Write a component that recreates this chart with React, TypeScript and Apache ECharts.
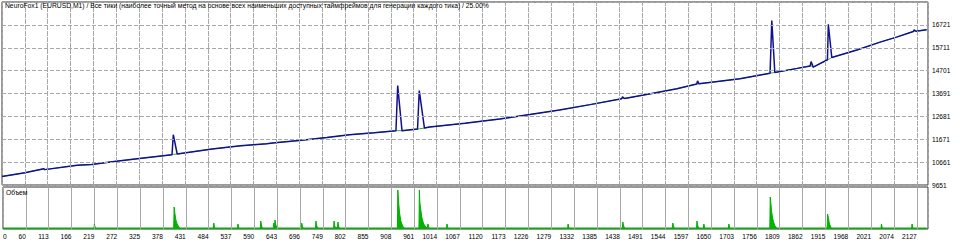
import React, { useEffect, useRef } from "react";
import * as echarts from "echarts";

const TITLE =
  "NeuroFox1 (EURUSD,M1) / Все тики (наиболее точный метод на основе всех наименьших доступных таймфреймов для генерации каждого тика) / 25.00%";
const VOLUME_LABEL = "Объем";

// x axis: trade numbers; the left edge is labelled "0"
const X_ORIGIN = 7;
const X_END = 2153;
const X_STEP = 53;
// y axis: balance ticks
const Y_BASE = 9651;
const Y_STEP = 1010;
const Y_TOP = 17731;
const VOL_MAX = 4.2;

const balanceTrades = [
  7, 60, 104, 106, 181, 215, 267, 330, 401, 404, 413, 494, 560, 620, 640, 696, 760, 812, 870, 920, 924, 934,
  970, 974, 986, 998, 1080, 1160, 1230, 1299, 1370, 1443, 1445, 1450, 1510, 1571, 1617, 1619, 1622, 1670,
  1717, 1787, 1791, 1798, 1850, 1880, 1882, 1887, 1920, 1922, 1930, 1990, 2042, 2080, 2119, 2121, 2125, 2150,
];
const balanceValues = [
  10030, 10190, 10370, 10330, 10520, 10560, 10690, 10830, 10990, 11870, 11020, 11240, 11380, 11470, 11520,
  11620, 11750, 11870, 11960, 12046, 14040, 12046, 12120, 13820, 12165, 12210, 12380, 12560, 12760, 12960,
  13200, 13460, 13540, 13470, 13680, 13900, 14110, 14250, 14120, 14230, 14340, 14590, 16910, 14620, 14800,
  14910, 15100, 14855, 15180, 16750, 15280, 15620, 15960, 16180, 16430, 16500, 16440, 16510,
];
const equityValues = [
  10030, 10190, 10370, 10330, 10520, 10560, 10690, 10830, 10990, 11000, 11020, 11240, 11380, 11470, 11520,
  11620, 11750, 11870, 11960, 12046, 12050, 12046, 12120, 12130, 12165, 12210, 12380, 12560, 12760, 12960,
  13200, 13460, 13470, 13470, 13680, 13900, 14110, 14115, 14120, 14230, 14340, 14590, 14600, 14620, 14800,
  14910, 14915, 14855, 15180, 15190, 15280, 15620, 15960, 16180, 16430, 16435, 16440, 16510,
];

const volumeTrades = [
  7, 218, 219, 221, 223, 403, 404, 406, 408, 411, 415, 418, 495, 496, 498, 551, 552, 554, 604, 605, 607, 609,
  634, 635, 637, 638, 640, 643, 699, 700, 702, 704, 732, 733, 735, 737, 774, 775, 777, 783, 784, 786, 788,
  922, 923, 925, 927, 930, 934, 938, 972, 973, 974, 976, 979, 983, 988, 991, 993, 995, 1036, 1037, 1039,
  1317, 1318, 1320, 1444, 1445, 1447, 1449, 1560, 1561, 1563, 1565, 1616, 1617, 1619, 1621, 1632, 1633, 1635,
  1690, 1691, 1693, 1786, 1787, 1789, 1791, 1794, 1798, 1802, 1919, 1920, 1922, 1924, 1927, 1930, 2044, 2045,
  2047, 2115, 2116, 2118, 2150,
];
const volumeLots = [
  0.1, 0.1, 0.5, 0.15, 0.1, 0.1, 2.2, 1.5, 0.9, 0.5, 0.2, 0.1, 0.1, 0.6, 0.1, 0.1, 0.5, 0.1, 0.1, 0.8, 0.3, 0.1,
  0.1, 0.6, 0.2, 0.9, 0.4, 0.1, 0.1, 0.6, 0.2, 0.1, 0.1, 0.8, 0.3, 0.1, 0.1, 0.8, 0.2, 0.1, 0.7, 0.2, 0.1,
  0.1, 3.9, 2.6, 1.6, 0.8, 0.3, 0.1, 0.1, 3.9, 2.7, 2.0, 1.1, 0.5, 0.2, 0.1, 0.5, 0.1, 0.1, 0.5, 0.1,
  0.1, 0.5, 0.1, 0.1, 0.7, 0.3, 0.1, 0.1, 0.6, 0.2, 0.1, 0.1, 0.8, 0.3, 0.1, 0.1, 0.5, 0.1,
  0.1, 0.5, 0.1, 0.1, 3.2, 2.3, 1.5, 0.8, 0.3, 0.1, 0.1, 1.5, 1.1, 0.6, 0.2, 0.1, 0.1, 0.5,
  0.1, 0.1, 0.5, 0.1, 0.1,
];

const FONT = "Liberation Sans, Arial, sans-serif";
const GRID_COLOR = "#a8a8a8";
const HIDDEN = "rgba(0,0,0,0)";

export default function App() {
  const ref = useRef<HTMLDivElement>(null);

  useEffect(() => {
    if (!ref.current) return;
    const chart = echarts.init(ref.current, undefined, { renderer: "svg" });

    const balance = balanceTrades.map((t, i) => [t - X_ORIGIN, balanceValues[i] - Y_BASE]);
    const equity = balanceTrades.map((t, i) => [t - X_ORIGIN, equityValues[i] - Y_BASE]);
    const volume = volumeTrades.map((t, i) => [t - X_ORIGIN, volumeLots[i]]);

    // grid-line positions follow the axis tick steps
    const xTicks: number[] = [];
    for (let v = X_STEP; v < X_END - X_ORIGIN; v += X_STEP) xTicks.push(v);
    const yTicks: number[] = [];
    for (let v = Y_STEP; v < Y_TOP - Y_BASE; v += Y_STEP) yTicks.push(v);

    const gridLineStyle = { color: GRID_COLOR, type: "dashed" as const, width: 1 };
    const markBase = {
      silent: true,
      symbol: ["none", "none"],
      label: { show: false },
      lineStyle: gridLineStyle,
      emphasis: { disabled: true },
      animation: false,
    };

    const hiddenLine = { show: true, lineStyle: { color: HIDDEN, width: 0 } };
    const hiddenTick = { show: true, length: 0, lineStyle: { color: HIDDEN, width: 0 } };
    const dashed = { show: true, lineStyle: gridLineStyle };

    chart.setOption({
      animation: false,
      grid: [
        { left: 2, top: 2, width: 926, height: 183, show: true, borderColor: "#333", borderWidth: 1 },
        { left: 2, top: 187, width: 926, height: 42, show: true, borderColor: "#333", borderWidth: 1 },
      ],
      xAxis: [
        {
          type: "value",
          gridIndex: 0,
          min: 0,
          max: X_END - X_ORIGIN,
          interval: X_STEP,
          axisLine: hiddenLine,
          axisTick: hiddenTick,
          axisLabel: { show: false },
          splitLine: dashed,
        },
        {
          type: "value",
          gridIndex: 1,
          min: 0,
          max: X_END - X_ORIGIN,
          interval: X_STEP,
          axisLine: hiddenLine,
          axisTick: hiddenTick,
          splitLine: dashed,
          axisLabel: {
            show: true,
            fontSize: 6.6,
            fontFamily: FONT,
            color: "#000",
            align: "right",
            margin: 4,
            showMaxLabel: false,
            alignMinLabel: "left",
            formatter: (v: number) => (v === 0 ? "0" : String(v + X_ORIGIN)),
          },
        },
      ],
      yAxis: [
        {
          type: "value",
          gridIndex: 0,
          position: "right",
          min: 0,
          max: Y_TOP - Y_BASE,
          interval: Y_STEP,
          axisLine: hiddenLine,
          axisTick: hiddenTick,
          splitLine: dashed,
          axisLabel: {
            show: true,
            fontSize: 6.6,
            fontFamily: FONT,
            color: "#000",
            margin: 4,
            showMaxLabel: false,
            formatter: (v: number) => String(v + Y_BASE),
          },
        },
        {
          type: "value",
          gridIndex: 1,
          min: 0,
          max: VOL_MAX,
          axisLine: { show: false },
          axisTick: { show: false },
          axisLabel: { show: false },
          splitLine: { show: false },
        },
      ],
      series: [
        {
          type: "line",
          name: "equity",
          xAxisIndex: 0,
          yAxisIndex: 0,
          data: equity,
          showSymbol: false,
          lineStyle: { color: "#30b030", width: 1 },
          z: 2,
          markLine: {
            ...markBase,
            data: [...xTicks.map((v) => ({ xAxis: v })), ...yTicks.map((v) => ({ yAxis: v }))],
          },
        },
        {
          type: "line",
          name: "balance",
          xAxisIndex: 0,
          yAxisIndex: 0,
          data: balance,
          showSymbol: false,
          lineStyle: { color: "#101090", width: 1.5 },
          z: 3,
        },
        {
          type: "line",
          name: "volumeGrid",
          xAxisIndex: 1,
          yAxisIndex: 1,
          data: [
            [0, 0],
            [X_END - X_ORIGIN, 0],
          ],
          showSymbol: false,
          lineStyle: { color: HIDDEN, width: 0 },
          z: 1,
          markLine: { ...markBase, data: xTicks.map((v) => ({ xAxis: v })) },
        },
        {
          type: "line",
          name: "volume",
          xAxisIndex: 1,
          yAxisIndex: 1,
          data: volume,
          showSymbol: false,
          lineStyle: { color: "#00b000", width: 1 },
          areaStyle: { color: "#00b400", opacity: 1 },
          z: 3,
        },
      ],
      graphic: [
        {
          type: "text",
          left: 5,
          top: 2,
          z: 10,
          style: { text: TITLE, fontSize: 6.75, fontFamily: FONT, fill: "#000" },
        },
        {
          type: "text",
          left: 6,
          top: 189,
          z: 10,
          style: { text: VOLUME_LABEL, fontSize: 6.75, fontFamily: FONT, fill: "#000" },
        },
      ],
    });

    return () => chart.dispose();
  }, []);

  return (
    <div
      ref={ref}
      style={{ position: "fixed", left: 0, top: 0, width: 960, height: 243, background: "#fff" }}
    />
  );
}
